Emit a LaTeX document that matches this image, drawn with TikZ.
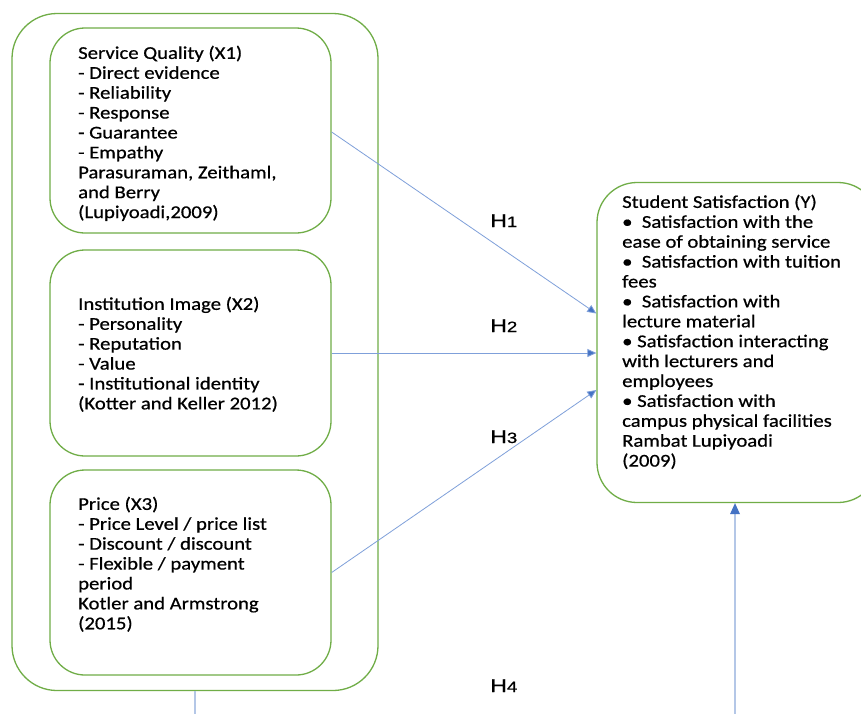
\documentclass[tikz,border=0pt]{standalone}
\usepackage{fontspec}
\setmainfont{Carlito}[FakeStretch=1.15, FakeBold=0.6]
\newfontfamily\arialf{Liberation Sans}[FakeStretch=1.25, FakeBold=0.6]
\usetikzlibrary{arrows.meta}
\definecolor{boxgreen}{HTML}{70AD47}
\definecolor{arrowblue}{HTML}{4472C4}
\definecolor{lineblue}{HTML}{7FA0DA}
\definecolor{paleblue}{HTML}{B4C7E7}
\begin{document}
\begin{tikzpicture}[x=1pt,y=-1pt,
  box/.style={draw=boxgreen, line width=1.3pt, rounded corners=35pt, inner sep=0pt},
  txt/.style={anchor=north west, align=left, inner sep=0pt, font=\fontsize{18}{19.9}\selectfont},
  conn/.style={draw=lineblue, line width=0.8pt, -{Triangle[width=8pt,length=9pt,fill=arrowblue]}},
  hfour/.style={draw=paleblue, line width=2.5pt},
  hlab/.style={anchor=base west, inner sep=0pt, font=\arialf\fontsize{18.5}{18}\selectfont}]
\clip (0,0) rectangle (861,713);
\path[fill=white] (0,0) rectangle (861,713);
% outer group
\node[box, minimum width=366pt, minimum height=677pt, rounded corners=45pt] (outer) at (195,352) {};
% inner boxes
\node[box, minimum width=281pt, minimum height=205pt] (b1) at (190.5,130.5) {};
\node[box, minimum width=281pt, minimum height=206pt] (b2) at (190.5,353) {};
\node[box, minimum width=281pt, minimum height=205pt] (b3) at (190.5,572.5) {};
% dependent box
\node[box, minimum width=281pt, minimum height=320pt, rounded corners=40pt] (yb) at (737.5,342.5) {};
% texts
\node[txt] (t1) at (78,45.5) {Service Quality (X1)\\- Direct evidence\\- Reliability\\- Response\\- Guarantee\\- Empathy\\Parasuraman, Zeithaml,\\and Berry\\(Lupiyoadi,2009)};
\node[txt] (t2) at (78,296.5) {Institution Image (X2)\\- Personality\\- Reputation\\- Value\\- Institutional identity\\(Kotter and Keller 2012)};
\node[txt] (t3) at (78,496.5) {Price (X3)\\- Price Level / price list\\- Discount / discount\\- Flexible / payment\\period\\Kotler and Armstrong\\(2015)};
\node[txt] (ty) at (622,194.5) {Student Satisfaction (Y)\\\textbullet\ \ Satisfaction with the\\ease of obtaining service\\\textbullet\ \ Satisfaction with tuition\\fees\\\textbullet\ \ Satisfaction with\\lecture material\\\textbullet\ Satisfaction interacting\\with lecturers and\\employees\\\textbullet\ Satisfaction with\\campus physical facilities\\Rambat Lupiyoadi\\(2009)};
% hypotheses arrows
\draw[conn] ([yshift=-1.5pt]b1.east) -- ([yshift=29pt]yb.west);
\draw[conn] (b2.east) -- ([yshift=-10.5pt]yb.west);
\draw[conn] (b3.east) -- ([yshift=-47.5pt]yb.west);
% H4
\coordinate (h4a) at (195,720);
\coordinate (h4b) at (735,720);
\draw[hfour] (outer.south) -- (h4a);
\draw[hfour] (h4b) -- ([yshift=-10pt]h4b |- yb.south);
\draw[draw=none, fill=arrowblue] (h4b |- yb.south) -- ++(-5pt,-11pt) -- ++(10pt,0) -- cycle;
% labels
\node[hlab] (l1) at (490,227) {H{\fontsize{15}{15}\selectfont 1}};
\node[hlab] (l2) at (490,332) {H{\fontsize{15}{15}\selectfont 2}};
\node[hlab] (l3) at (490,443) {H{\fontsize{15}{15}\selectfont 3}};
\node[hlab] (l4) at (490,692) {H{\fontsize{15}{15}\selectfont 4}};
\end{tikzpicture}
\end{document}
